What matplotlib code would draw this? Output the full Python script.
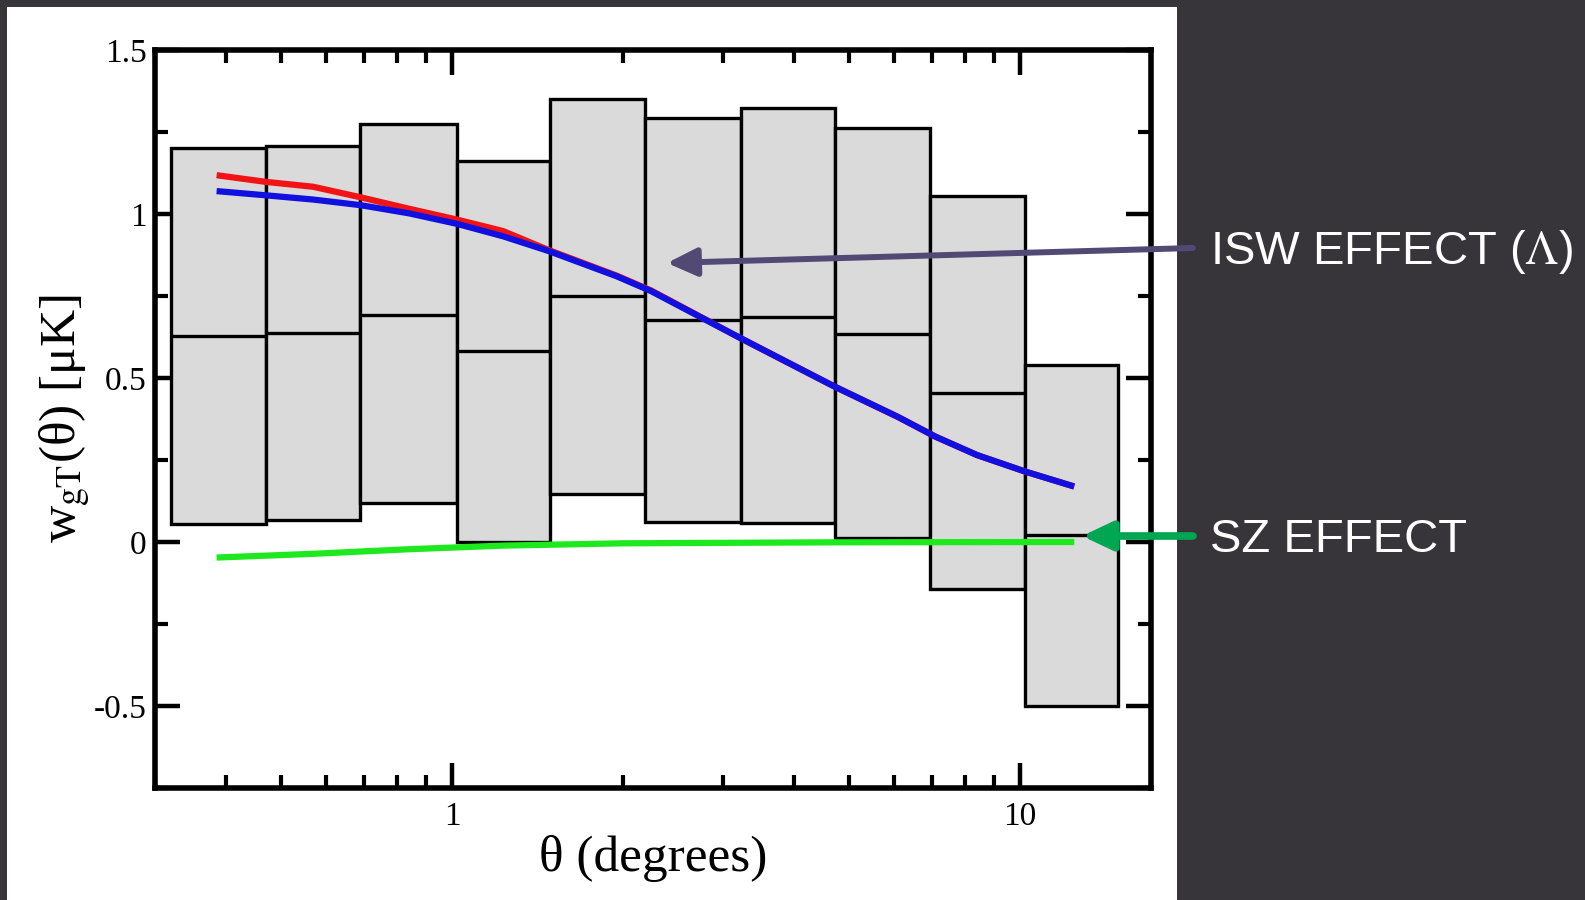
import matplotlib
matplotlib.use("Agg")
import matplotlib.pyplot as plt
from matplotlib.patches import Rectangle, FancyArrowPatch
from matplotlib.ticker import FixedLocator, LogLocator, MultipleLocator, NullFormatter

# bin edges (degrees) and box levels (muK)
bin_edges = [0.32, 0.47, 0.69, 1.02, 1.49, 2.19, 3.22, 4.73, 6.95, 10.2, 14.9]
box_top = [1.200, 1.206, 1.273, 1.163, 1.352, 1.294, 1.322, 1.261, 1.055, 0.541]
box_mid = [0.627, 0.636, 0.691, 0.581, 0.751, 0.678, 0.687, 0.633, 0.454, 0.021]
box_bot = [0.056, 0.066, 0.120, 0.000, 0.145, 0.062, 0.059, 0.011, -0.143, -0.500]

# model curves
theta = [0.39, 0.47, 0.57, 0.69, 0.84, 1.02, 1.23, 1.48, 1.95, 2.24,
         3.2, 4.7, 6.1, 7.1, 8.4, 10.2, 12.3]
w_red = [1.117, 1.098, 1.083, 1.051, 1.016, 0.983, 0.948, 0.890, 0.812, 0.767,
         0.624, 0.475, 0.381, 0.321, 0.265, 0.215, 0.172]
w_blue = [1.069, 1.057, 1.044, 1.027, 1.002, 0.970, 0.932, 0.887, 0.810, 0.765,
          0.624, 0.475, 0.381, 0.321, 0.265, 0.215, 0.172]
theta_sz = [0.39, 0.57, 0.84, 1.23, 2.0, 4.7, 12.3]
w_sz = [-0.047, -0.036, -0.022, -0.011, -0.004, -0.001, 0.0]

x_major = [1, 10]
y_major = [-0.5, 0, 0.5, 1, 1.5]
y_labels = ["-0.5", "0", "0.5", "1", "1.5"]

BG = "#37353a"
BOX = "#dadada"

plt.rcParams["mathtext.fontset"] = "stix"

fig = plt.figure(figsize=(15.85, 9), dpi=100, facecolor=BG)
# white panel behind the plot
fig.add_artist(Rectangle((7 / 1585, 0), 1170 / 1585, 893 / 900,
                         transform=fig.transFigure, facecolor="white",
                         edgecolor="none", zorder=0))

ax = fig.add_axes([155 / 1585, 1 - 788 / 900, 996 / 1585, 738 / 900])
ax.set_facecolor("white")
ax.set_xscale("log")

for i in range(len(box_top)):
    left, right = bin_edges[i], bin_edges[i + 1]
    ax.bar(left, box_top[i] - box_bot[i], width=right - left, bottom=box_bot[i],
           align="edge", color=BOX, edgecolor="black", linewidth=2.4, zorder=2)
    ax.hlines(box_mid[i], left, right, color="black", linewidth=2.4, zorder=2)

ax.plot(theta, w_red, color="#f21414", linewidth=4.5, zorder=3)
ax.plot(theta, w_blue, color="#1010e0", linewidth=4.5, zorder=4)
ax.plot(theta_sz, w_sz, color="#1ee81e", linewidth=4.5, zorder=4)

ax.set_xlim(0.3, 17)
ax.set_ylim(-0.75, 1.5)

ax.xaxis.set_major_locator(FixedLocator(x_major))
ax.set_xticklabels(["1", "10"])
ax.xaxis.set_minor_locator(LogLocator(base=10, subs=range(2, 10)))
ax.xaxis.set_minor_formatter(NullFormatter())
ax.yaxis.set_major_locator(FixedLocator(y_major))
ax.set_yticklabels(y_labels)
ax.yaxis.set_minor_locator(MultipleLocator(0.25))

serif = "Liberation Serif"
ax.tick_params(which="both", direction="in", top=True, right=True, color="black")
ax.tick_params(which="major", length=18, width=3.2)
ax.tick_params(which="minor", length=9.5, width=3.0)
ax.tick_params(axis="x", which="major", pad=10)
ax.tick_params(axis="y", which="major", pad=6)
for lab in ax.get_xticklabels() + ax.get_yticklabels():
    lab.set_fontfamily(serif)
    lab.set_fontsize(24)

for sp in ax.spines.values():
    sp.set_linewidth(4)
    sp.set_zorder(6)

ax.set_xlabel("θ (degrees)", fontfamily=serif, fontsize=37, labelpad=2)
ax.set_ylabel(r"w$_{\rm gT}$(θ) [μK]", fontfamily=serif, fontsize=37)
ax.yaxis.set_label_coords(-0.062, 0.5)

# annotations on the right
fig.text(1210 / 1585, 1 - 264 / 900, r"ISW EFFECT ($\Lambda$)", color="white",
         fontfamily="Liberation Sans", fontsize=34, ha="left", va="baseline")
fig.text(1210 / 1585, 1 - 552 / 900, "SZ EFFECT", color="white",
         fontfamily="Liberation Sans", fontsize=34, ha="left", va="baseline")

arrows = [((1193, 248), (667, 263), "#524a74", 4.3),
          ((1193, 536), (1082, 536), "#00a651", 5.5)]
for (x0, y0), (x1, y1), col, lw in arrows:
    arr = FancyArrowPatch((x0 / 1585, 1 - y0 / 900), (x1 / 1585, 1 - y1 / 900),
                          transform=fig.transFigure,
                          arrowstyle="-|>,head_length=18,head_width=8.5",
                          mutation_scale=1, color=col, linewidth=lw,
                          shrinkA=0, shrinkB=0, zorder=10)
    fig.add_artist(arr)

fig.savefig("out.png", dpi=100, facecolor=BG)
